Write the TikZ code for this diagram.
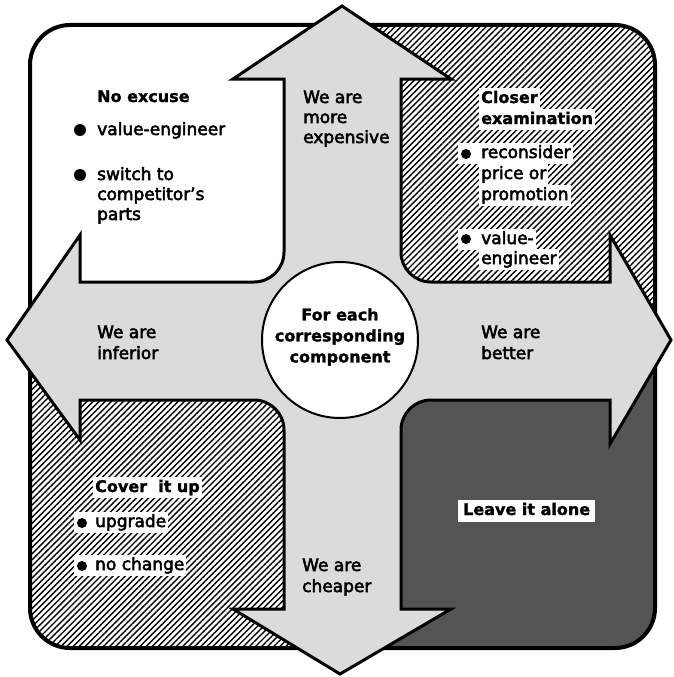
\documentclass[tikz,border=0pt]{standalone}
\usepackage{fontspec}
\setmainfont{DejaVu Sans}[BoldFeatures={FakeBold=1.5}]
\newfontfamily\medfont{DejaVu Sans}[FakeBold=3]
\usetikzlibrary{patterns.meta}

\begin{document}
\begin{tikzpicture}[x=1pt, y=-1pt,
  rg/.style={font=\medfont\fontsize{17}{21}\selectfont},
  bd/.style={font=\fontsize{16}{21}\selectfont\bfseries},
  ln/.style={anchor=base west, inner xsep=2pt, inner ysep=2.5pt,
             text height=12.5pt, text depth=3.5pt},
  wb/.style={ln, fill=white},
  bul/.style={circle, fill=black, inner sep=0pt, minimum size=10pt},
  hatch/.style={pattern={Lines[angle=45,distance=4.3pt,line width=1.4pt]}},
  frame/.style={line width=4pt, rounded corners=40pt},
  crossfill/.style={fill=black!14, draw=black, line width=3pt, line join=miter},
  hubstyle/.style={circle, draw=black, line width=2pt, fill=white,
                   minimum size=156pt, inner sep=0pt}
]
\useasboundingbox (0,0) rectangle (673,677);
\fill[white] (0,0) rectangle (673,677);

% the four quadrants inside the rounded frame
\begin{scope}
  \clip[rounded corners=40pt] (30,25) rectangle (655,648);
  \fill[white] (30,25) rectangle (342,341);
  \fill[white] (342,25) rectangle (655,341);
  \fill[hatch] (342,25) rectangle (655,341);
  \fill[white] (30,341) rectangle (342,648);
  \fill[hatch] (30,341) rectangle (342,648);
  \fill[black!67] (342,341) rectangle (655,648);
\end{scope}
\draw[frame] (30,25) rectangle (655,648);

% four-way arrow
\path[crossfill]
  (342,6) -- (451,79) -- (401,79) -- (401,252)
  .. controls (401,268.6) and (414.4,282) .. (431,282)
  -- (610,282) -- (610,235) -- (671,340) -- (610,444) -- (610,400) -- (431,400)
  .. controls (414.4,400) and (401,413.4) .. (401,430)
  -- (401,609) -- (451,609) -- (340,674) -- (233,609) -- (284,609) -- (284,430)
  .. controls (284,413.4) and (270.6,400) .. (254,400)
  -- (80,400) -- (80,440) -- (7,340) -- (80,235) -- (80,282) -- (254,282)
  .. controls (270.6,282) and (284,268.6) .. (284,252)
  -- (284,79) -- (233,79) -- cycle;

% centre
\node[hubstyle] (hub) at (340,340) {};
\node[bd, align=center, inner sep=0pt] (hubtxt) at (340,337) {For each\\corresponding\\component};

% arrow labels
\node[rg, ln] (up1) at (301,103) {We are};
\node[rg, ln] (up2) at (301,123) {more};
\node[rg, ln] (up3) at (301,143) {expensive};
\node[rg, ln] (lf1) at (95,338) {We are};
\node[rg, ln] (lf2) at (95,359) {inferior};
\node[rg, ln] (rt1) at (479,338) {We are};
\node[rg, ln] (rt2) at (479,359) {better};
\node[rg, ln] (dn1) at (300,571) {We are};
\node[rg, ln] (dn2) at (300,592) {cheaper};

% top left: no excuse
\node[bd, wb] (ne0) at (95,102) {No excuse};
\node[rg, wb] (ne1) at (95,135) {value-engineer};
\node[rg, wb] (ne2) at (95,180) {switch to};
\node[rg, wb] (ne3) at (95,200) {competitor’s};
\node[rg, wb] (ne4) at (95,220) {parts};
\node[bul, minimum size=12pt] (neb1) at (80,130) {};
\node[bul, minimum size=12pt] (neb2) at (80,175) {};

% top right: closer examination
\node[bd, wb] (ce0) at (479,103) {Closer};
\node[bd, wb] (ce1) at (479,124) {examination};
\node[rg, wb] (ce2) at (458,158) {\hspace*{21pt}reconsider};
\node[rg, wb] (ce3) at (479,179) {price or};
\node[rg, wb] (ce4) at (479,200) {promotion};
\node[rg, wb] (ce5) at (458,244) {\hspace*{21pt}value-};
\node[rg, wb] (ce6) at (479,264) {engineer};
\node[bul] (ceb1) at (466,154) {};
\node[bul] (ceb2) at (466,239) {};

% bottom left: cover it up
\node[bd, wb] (cu0) at (93,492) {Cover\ \ it up};
\node[rg, wb] (cu1) at (74,527) {\hspace*{19pt}upgrade};
\node[rg, wb] (cu2) at (74,570) {\hspace*{19pt}no change};
\node[bul] (cub1) at (82,523) {};
\node[bul] (cub2) at (82,566) {};

% bottom right: leave it alone
\node[bd, wb, inner xsep=5pt, inner ysep=3pt] (la0) at (458,515) {Leave it alone};
\end{tikzpicture}
\end{document}
